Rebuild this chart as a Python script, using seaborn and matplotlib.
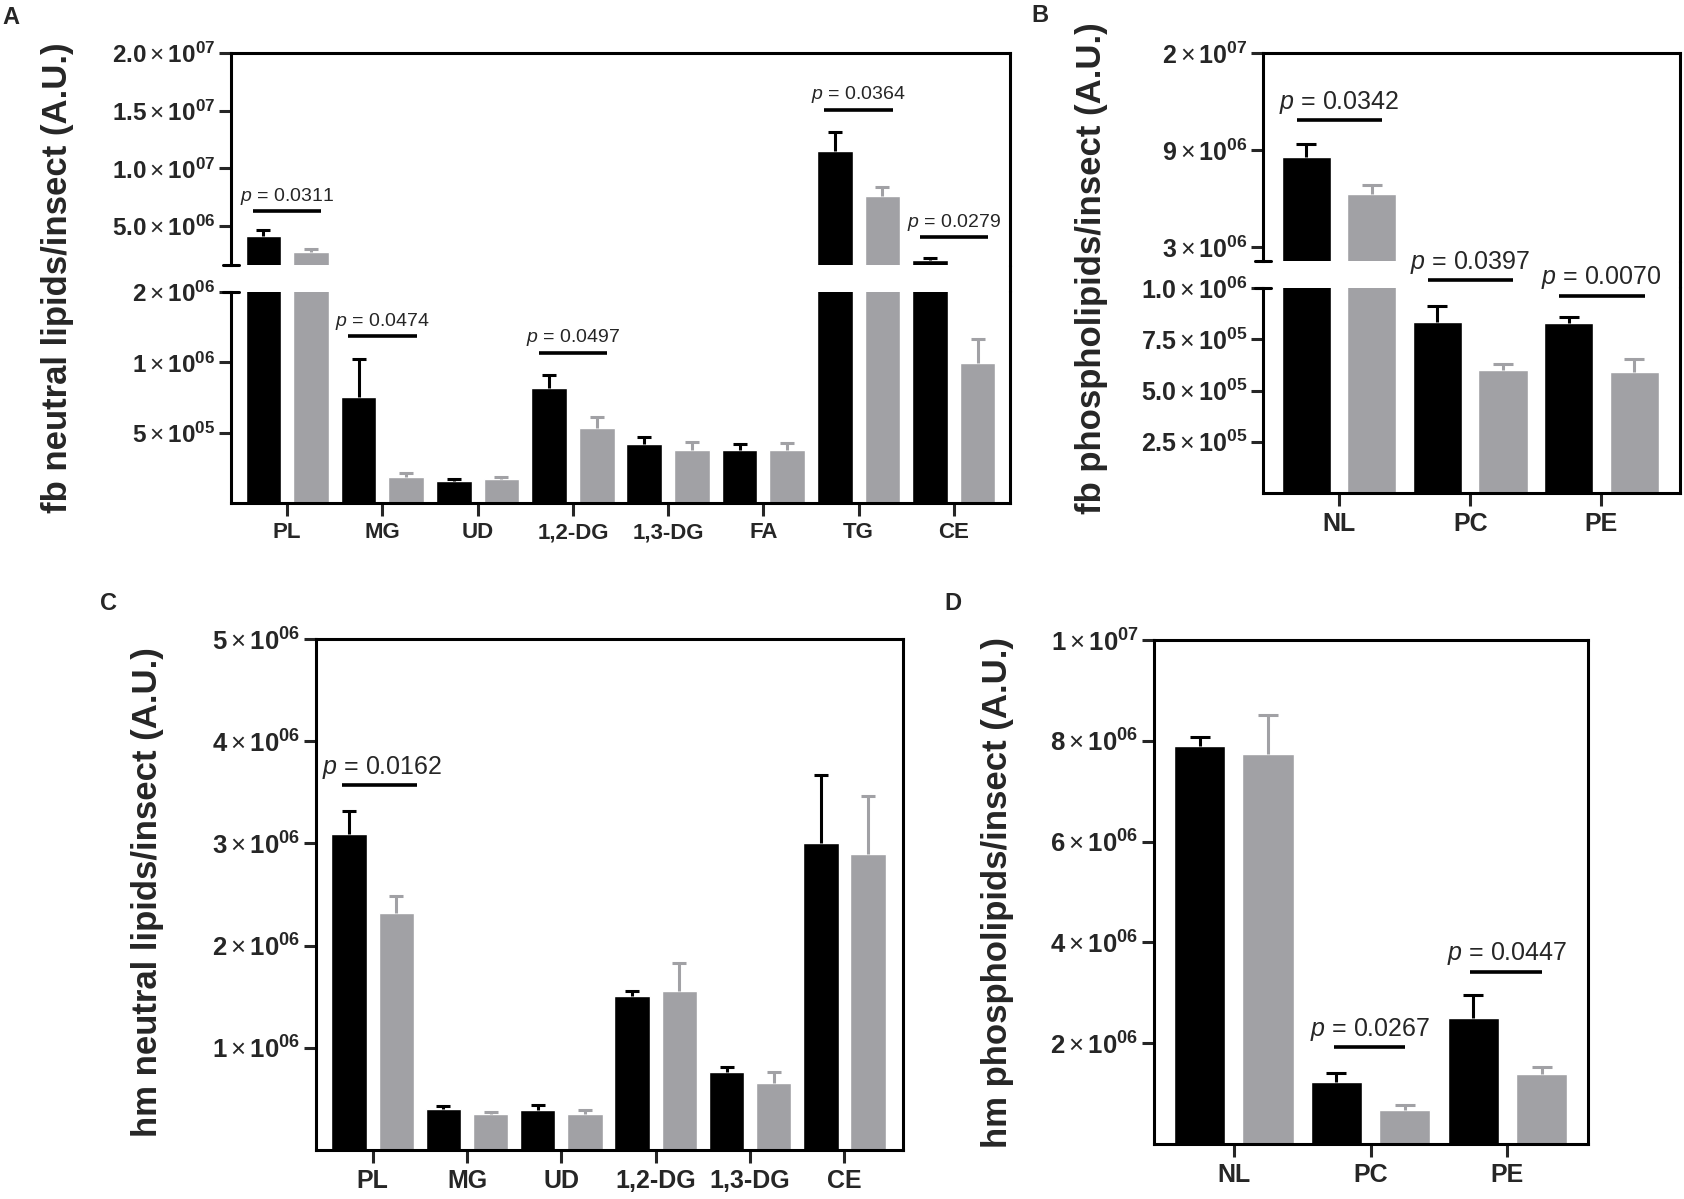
import numpy as np
import pandas as pd
import seaborn as sns
import matplotlib.pyplot as plt
from matplotlib.lines import Line2D
from matplotlib.ticker import NullLocator

# ---------------- data ----------------
groups = ['control', 'treated']
colors = ['#000000', '#a1a1a5']

# A: fat body neutral lipids
fbn_cats = ['PL', 'MG', 'UD', '1,2-DG', '1,3-DG', 'FA', 'TG', 'CE']
fbn_black = [4.13e6, 7.1e5, 3.12e5, 7.8e5, 4.45e5, 4.2e5, 1.15e7, 2.05e6]
fbn_black_sem = [5.2e5, 3.25e5, 6e3, 1.05e5, 3.5e4, 2.5e4, 1.65e6, 1.5e5]
fbn_grey = [2.75e6, 3.24e5, 3.18e5, 5.25e5, 4.23e5, 4.2e5, 7.6e6, 9.9e5]
fbn_grey_sem = [2.6e5, 1.3e4, 4e3, 6e4, 3.4e4, 3e4, 7.8e5, 2.7e5]
fbn_sig_cats = ['PL', 'MG', '1,2-DG', 'TG', 'CE']
fbn_sig_y = [6.3e6, 1.29e6, 1.1e6, 1.51e7, 4.05e6]
fbn_sig_p = ['0.0311', '0.0474', '0.0497', '0.0364', '0.0279']

# B: fat body phospholipids
fbp_cats = ['NL', 'PC', 'PE']
fbp_black = [8.57e6, 8.32e5, 8.27e5]
fbp_black_sem = [1.12e6, 7.8e4, 3.3e4]
fbp_grey = [6.3e6, 6.0e5, 5.9e5]
fbp_grey_sem = [5.6e5, 3e4, 6.3e4]
fbp_sig_cats = ['NL', 'PC', 'PE']
fbp_sig_y = [1.24e7, 1.04e6, 9.63e5]
fbp_sig_p = ['0.0342', '0.0397', '0.0070']

# C: hemolymph neutral lipids
hmn_cats = ['PL', 'MG', 'UD', '1,2-DG', '1,3-DG', 'CE']
hmn_black = [3.09e6, 4.0e5, 3.9e5, 1.51e6, 7.6e5, 3.0e6]
hmn_black_sem = [2.3e5, 3e4, 5e4, 5e4, 5e4, 6.7e5]
hmn_grey = [2.32e6, 3.5e5, 3.5e5, 1.56e6, 6.6e5, 2.9e6]
hmn_grey_sem = [1.7e5, 2e4, 4e4, 2.7e5, 1.0e5, 5.6e5]
hmn_sig_cats = ['PL']
hmn_sig_y = [3.57e6]
hmn_sig_p = ['0.0162']

# D: hemolymph phospholipids
hmp_cats = ['NL', 'PC', 'PE']
hmp_black = [7.89e6, 1.23e6, 2.50e6]
hmp_black_sem = [1.9e5, 1.8e5, 4.5e5]
hmp_grey = [7.73e6, 6.8e5, 1.39e6]
hmp_grey_sem = [7.9e5, 1.0e5, 1.3e5]
hmp_sig_cats = ['PC', 'PE']
hmp_sig_y = [1.93e6, 3.42e6]
hmp_sig_p = ['0.0267', '0.0447']

# ---------------- style ----------------
sns.set_style('ticks')
plt.rcParams['font.family'] = ['Liberation Sans', 'DejaVu Sans']
plt.rcParams['mathtext.fontset'] = 'custom'
plt.rcParams['mathtext.rm'] = 'Liberation Sans'
plt.rcParams['mathtext.bf'] = 'Liberation Sans:bold'
plt.rcParams['mathtext.it'] = 'Liberation Sans:italic'

LW = 2.2
W, H = 1684, 1199
fig = plt.figure(figsize=(W / 100, H / 100), dpi=100)


def box(l, t, r, b):
    return fig.add_axes([l / W, 1 - b / H, (r - l) / W, (b - t) / H])


def sci(m, e):
    return r'$\mathbf{%s}\times\mathbf{10^{%s}}$' % (m, e)


def draw_bars(ax, cats, black, grey, black_sem, grey_sem, capsize):
    n = len(cats)
    df = pd.DataFrame({'lipid': cats * 2,
                       'group': [groups[0]] * n + [groups[1]] * n,
                       'value': black + grey})
    sns.barplot(data=df, x='lipid', y='value', hue='group', order=cats,
                hue_order=groups, palette=colors, saturation=1,
                errorbar=None, width=1.0, gap=0.25, legend=False, ax=ax)
    for cont, sem, col in zip(list(ax.containers), [black_sem, grey_sem], colors):
        xs = [b.get_x() + b.get_width() / 2 for b in cont]
        ys = [b.get_height() for b in cont]
        eb = ax.errorbar(xs, ys, yerr=[np.zeros(len(sem)), sem], fmt='none',
                         ecolor=col, elinewidth=LW, capsize=capsize, capthick=LW)
        # only the upper cap is shown (mean + SEM)
        for cap in eb[1]:
            if np.allclose(cap.get_ydata(), ys):
                cap.set_visible(False)
    ax.set_xlabel('')
    ax.set_ylabel('')


def style_ax(ax, xfs, yfs):
    for s in ax.spines.values():
        s.set_linewidth(LW)
        s.set_color('black')
        s.set_visible(True)
    ax.tick_params(axis='y', direction='out', length=9, width=LW, pad=2,
                   labelsize=yfs)
    ax.tick_params(axis='x', direction='out', length=9, width=LW, pad=5,
                   labelsize=xfs)
    for lab in ax.get_xticklabels():
        lab.set_fontweight('bold')


def sig(ax, cats, cat, y, p, fs, left=0.34, right=0.34, shift=0.0):
    i = cats.index(cat)
    ax.plot([i - left, i + right], [y, y], color='black', lw=2.6,
            clip_on=False, solid_capstyle='butt')
    ax.annotate(r'$\it{p}$ = ' + p, xy=(i + shift, y), xytext=(0, 3),
                textcoords='offset points', ha='center', va='bottom',
                fontsize=fs, annotation_clip=False)


def broken(ax_up, ax_lo, right_px, gap_top, gap_bot):
    ax_up.spines['bottom'].set_visible(False)
    ax_up.tick_params(axis='x', bottom=False, labelbottom=False)
    ax_lo.spines['top'].set_visible(False)
    d = 8 / (ax_up.get_position().width * W)
    ax_up.plot([-d, d], [0, 0], transform=ax_up.transAxes, color='black',
               lw=LW, clip_on=False)
    ax_lo.plot([-d, d], [1, 1], transform=ax_lo.transAxes, color='black',
               lw=LW, clip_on=False)
    fig.add_artist(Line2D([right_px / W, right_px / W],
                          [1 - gap_top / H, 1 - gap_bot / H],
                          transform=fig.transFigure, color='black', lw=LW))


# ---------------- panel A ----------------
axA_up = box(231, 53, 1010, 265)
axA_lo = box(231, 292, 1010, 503)
for ax in (axA_up, axA_lo):
    draw_bars(ax, fbn_cats, fbn_black, fbn_grey, fbn_black_sem, fbn_grey_sem, 5)
    ax.set_xlim(-0.59, len(fbn_cats) - 0.41)
    style_ax(ax, 16, 17.5)
axA_up.set_ylim(1.62e6, 2.0e7)
axA_up.set_yticks([5e6, 1e7, 1.5e7, 2e7],
                  [sci('5.0', '06'), sci('1.0', '07'), sci('1.5', '07'), sci('2.0', '07')])
axA_lo.set_yscale('log')
axA_lo.set_ylim(2.5e5, 2e6)
axA_lo.set_yticks([5e5, 1e6, 2e6], [sci('5', '05'), sci('1', '06'), sci('2', '06')])
axA_lo.yaxis.set_minor_locator(NullLocator())
broken(axA_up, axA_lo, 1010, 265, 292)
for cat, y, p in zip(fbn_sig_cats, fbn_sig_y, fbn_sig_p):
    sig(axA_up if y > 2e6 else axA_lo, fbn_cats, cat, y, p, 14, 0.36, 0.36)

# ---------------- panel B ----------------
brk_val = [0, 3e6, 9e6, 2e7, 1e8]
brk_pos = [-0.5, 0, 1, 2, 9.27]


def fwd(v):
    return np.interp(v, brk_val, brk_pos)


def inv(u):
    return np.interp(u, brk_pos, brk_val)


axB_up = box(1263, 53, 1680, 261)
axB_lo = box(1263, 288, 1680, 493)
for ax in (axB_up, axB_lo):
    draw_bars(ax, fbp_cats, fbp_black, fbp_grey, fbp_black_sem, fbp_grey_sem, 7)
    ax.set_xlim(-0.58, len(fbp_cats) - 0.4)
    style_ax(ax, 18, 18)
axB_up.set_yscale('function', functions=(fwd, inv))
axB_up.set_ylim(2.14e6, 2e7)
axB_up.set_yticks([3e6, 9e6, 2e7], [sci('3', '06'), sci('9', '06'), sci('2', '07')])
axB_up.yaxis.set_minor_locator(NullLocator())
axB_lo.set_ylim(0, 1e6)
axB_lo.set_yticks([2.5e5, 5e5, 7.5e5, 1e6],
                  [sci('2.5', '05'), sci('5.0', '05'), sci('7.5', '05'), sci('1.0', '06')])
broken(axB_up, axB_lo, 1680, 261, 288)
for cat, y, p in zip(fbp_sig_cats, fbp_sig_y, fbp_sig_p):
    sig(axB_up if y > 2e6 else axB_lo, fbp_cats, cat, y, p, 18, 0.32, 0.33)

# ---------------- panel C ----------------
axC = box(316, 639, 903, 1150)
draw_bars(axC, hmn_cats, hmn_black, hmn_grey, hmn_black_sem, hmn_grey_sem, 5)
axC.set_xlim(-0.6, len(hmn_cats) - 0.38)
axC.set_ylim(0, 5e6)
axC.set_yticks([1e6, 2e6, 3e6, 4e6, 5e6], [sci(str(k), '06') for k in range(1, 6)])
style_ax(axC, 18, 18.5)
for cat, y, p in zip(hmn_sig_cats, hmn_sig_y, hmn_sig_p):
    sig(axC, hmn_cats, cat, y, p, 18, 0.32, 0.47, 0.1)

# ---------------- panel D ----------------
axD = box(1154, 640, 1588, 1144)
draw_bars(axD, hmp_cats, hmp_black, hmp_grey, hmp_black_sem, hmp_grey_sem, 7)
axD.set_xlim(-0.584, len(hmp_cats) - 0.41)
axD.set_ylim(0, 1e7)
axD.set_yticks([2e6, 4e6, 6e6, 8e6, 1e7],
               [sci('2', '06'), sci('4', '06'), sci('6', '06'), sci('8', '06'), sci('1', '07')])
style_ax(axD, 18, 18.5)
for cat, y, p in zip(hmp_sig_cats, hmp_sig_y, hmp_sig_p):
    sig(axD, hmp_cats, cat, y, p, 18, 0.27, 0.25)

# ---------------- labels ----------------
ylabels = [(58, 278, 'fb neutral lipids/insect (A.U.)'),
           (1091, 268, 'fb phospholipids/insect (A.U.)'),
           (148, 892, 'hm neutral lipids/insect (A.U.)'),
           (998, 892, 'hm phospholipids/insect (A.U.)')]
for x, y, txt in ylabels:
    fig.text(x / W, 1 - y / H, txt, rotation=90, ha='center', va='center',
             fontsize=25, fontweight='bold')

letters = [(11, 17, 'A'), (1040, 16, 'B'), (109, 603, 'C'), (953, 603, 'D')]
for x, y, txt in letters:
    fig.text(x / W, 1 - y / H, txt, ha='center', va='center',
             fontsize=17, fontweight='bold')

fig.savefig('out.png', dpi=100)
